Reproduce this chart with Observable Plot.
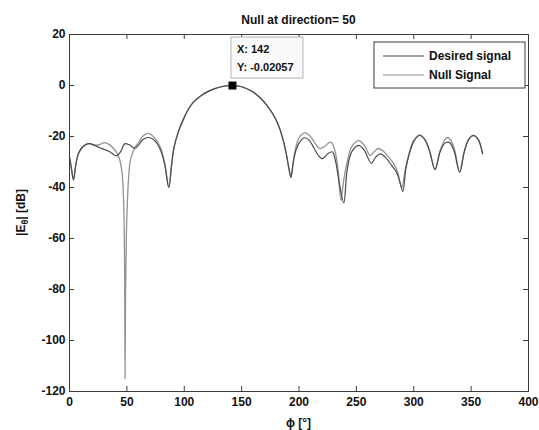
<!DOCTYPE html>
<html>
<head>
<meta charset="utf-8">
<script src="https://cdn.jsdelivr.net/npm/d3@7"></script>
<script src="https://cdn.jsdelivr.net/npm/@observablehq/plot@0.6"></script>
<style>
  html, body { margin: 0; padding: 0; background: #fff; }
  svg { display: block; }
</style>
</head>
<body>
<div id="chart"></div>
<script>
// ---- Data ----
const titleText = "Null at direction= 50";
const seriesNames = ["Desired signal", "Null Signal"];
const xTicks = [0, 50, 100, 150, 200, 250, 300, 350, 400];
const yTicks = [-120, -100, -80, -60, -40, -20, 0, 20];

const desiredPhi = [0, 1.5, 3.5, 5.5, 8, 12, 17, 22, 26, 31, 35, 41, 44.5, 48, 52, 57, 60, 64, 69, 74, 79, 83, 86.5,
  89, 91, 95, 100, 104, 108, 114, 120, 126, 132, 137, 142, 147, 152, 157, 162, 167, 172, 177, 182, 186, 189, 191, 193,
  195, 198, 202, 205, 209, 213, 217, 220.5, 225, 229, 232, 235, 239, 242, 246, 252, 257, 263, 267, 271, 276, 281, 285,
  288, 290.5, 293, 296, 300, 305, 310, 314, 318.5, 323, 327, 331, 335, 340, 344, 348, 352, 356, 360];
const desiredDb = [-28, -32, -37, -31, -26.5, -23.8, -22.8, -23.5, -24.3, -25.2, -26, -27.6, -26, -22.9, -23.2, -24.6, -23.5, -21.2, -20.4, -21.5, -25, -31, -40,
  -31, -24.5, -18, -12.5, -9, -6.5, -4.2, -2.5, -1.3, -0.5, -0.1, 0, -0.2, -0.8, -1.8, -3.2, -5.2, -7.8, -11, -15.5, -21, -27, -32, -36,
  -30, -24.5, -21.3, -20.5, -21.5, -24.5, -27.5, -28.7, -26.8, -26, -30, -38, -46, -33, -26, -23.5, -25.5, -30.5, -28, -26.8, -28.5, -31.5, -34,
  -38, -41.5, -33, -27, -22, -19.6, -21.5, -26, -33, -26, -22.7, -22.3, -25.5, -34, -26, -21, -19.6, -21, -26.7];

const nullPhi = [0, 1.5, 3.5, 5.5, 8, 12, 17, 22, 26, 30.5, 35, 39, 42, 44, 46, 47.3, 48, 48.4, 48.9, 49.6, 50.5, 51.7, 53, 55, 57, 60, 64, 69, 74, 79, 83, 86.5,
  89, 91, 95, 100, 104, 108, 114, 120, 126, 132, 137, 142, 147, 152, 157, 162, 167, 172, 177, 182, 186, 189, 191, 193,
  196, 200, 205, 209, 213, 218, 222, 226, 228, 231, 234, 236.5, 239, 242, 246, 252, 257, 262, 265.5, 269, 274, 279, 283, 286, 289.5,
  293, 296, 300, 305, 310, 314, 318.5, 323, 327, 329.5, 333, 336, 340, 344, 348, 352, 356, 360];
const nullDb = [-28, -32, -37, -31, -26.5, -23.8, -22.8, -23.4, -23.2, -22.4, -23.3, -25, -27, -29.5, -35, -48, -70, -115, -80, -58, -45, -35, -29.5, -26.5, -24.3, -22.5, -19.8, -18.8, -20.5, -24, -30.5, -40,
  -31, -24.5, -18, -12.5, -9, -6.5, -4.2, -2.5, -1.3, -0.5, -0.1, 0, -0.2, -0.8, -1.8, -3.2, -5.2, -7.8, -11, -15.5, -21, -27, -32, -36,
  -27, -20.5, -18.6, -19.5, -22, -24.7, -24, -22.5, -22.2, -25, -33, -45, -37, -30, -24, -21.6, -23.5, -27.5, -26, -24.7, -26, -28.5, -31, -34, -40,
  -32, -26.5, -21.5, -19.4, -21.3, -26, -33, -25.5, -21.3, -20.4, -22, -26, -34, -26, -21, -19.6, -21, -26.7];

const tipPhi = 142;
const tipDb = -0.02057;
const tipLines = ["X: 142", "Y: -0.02057"];

// ---- Build tables ----
const desired = desiredPhi.map((p, i) => ({phi: p, db: desiredDb[i]}));
const nulled = nullPhi.map((p, i) => ({phi: p, db: nullDb[i]}));

const W = 539, H = 430;
const mL = 69, mR = 11, mT = 34, mB = 39;
const plotH = H - mT - mB, plotW = W - mL - mR;
const axisColor = "#3c3c3c";
const desiredColor = "#4a4a4a";
const nullColor = "#929292";
const font = "'Liberation Sans', Arial, Helvetica, sans-serif";

const chart = Plot.plot({
  width: W, height: H,
  marginLeft: mL, marginRight: mR, marginTop: mT, marginBottom: mB,
  x: {domain: [0, 400], ticks: xTicks},
  y: {domain: [-120, 20], ticks: yTicks},
  style: {fontFamily: font, fontSize: "12px", fontWeight: "bold", color: "#111", background: "#fff"},
  marks: [
    Plot.line(nulled, {x: "phi", y: "db", curve: "catmull-rom", stroke: nullColor, strokeWidth: 1.3}),
    Plot.line(desired, {x: "phi", y: "db", curve: "catmull-rom", stroke: desiredColor, strokeWidth: 1.2}),
    Plot.frame({stroke: axisColor, strokeWidth: 1}),
    Plot.tickX(xTicks, {x: d => d, insetTop: plotH - 5, stroke: axisColor}),
    Plot.tickX(xTicks, {x: d => d, insetBottom: plotH - 5, stroke: axisColor}),
    Plot.tickY(yTicks, {y: d => d, insetRight: plotW - 5, stroke: axisColor}),
    Plot.tickY(yTicks, {y: d => d, insetLeft: plotW - 5, stroke: axisColor}),
    Plot.axisX(xTicks, {tickSize: 0, tickPadding: 6, label: null, tickFormat: d => String(d)}),
    Plot.axisY(yTicks, {tickSize: 0, tickPadding: 4, label: null, tickFormat: d => String(d)}),
    Plot.dot([{phi: tipPhi, db: tipDb}], {x: "phi", y: "db", symbol: "square", r: 4.5, fill: "#000", stroke: "none"})
  ]
});

const svg = d3.select(chart);
const sx = chart.scale("x"), sy = chart.scale("y");

function addText(parent, x, y, txt, anchor, size) {
  return parent.append("text")
    .attr("x", x).attr("y", y)
    .attr("text-anchor", anchor)
    .attr("font-family", font).attr("font-size", size || 12).attr("font-weight", "bold").attr("fill", "#111")
    .text(txt);
}

// Title
addText(svg, (mL + W - mR) / 2, 24, titleText, "middle");
// X label
addText(svg, (mL + W - mR) / 2, 427, "ϕ [°]", "middle");

// Y label with subscript
const yl = svg.append("text")
  .attr("transform", `translate(25,${(mT + H - mB) / 2}) rotate(-90)`)
  .attr("text-anchor", "middle")
  .attr("font-family", font).attr("font-size", 12).attr("font-weight", "bold").attr("fill", "#111");
yl.append("tspan").text("|E");
yl.append("tspan").attr("font-size", 9).attr("dy", 3).text("θ");
yl.append("tspan").attr("dy", -3).text("| [dB]");

// Data tip box
const tx = sx.apply(tipPhi), ty = sy.apply(tipDb);
svg.append("rect")
  .attr("x", tx - 1).attr("y", ty - 48).attr("width", 72).attr("height", 41)
  .attr("fill", "#fafafa").attr("stroke", "#b4b4b4").attr("stroke-width", 1);
tipLines.forEach((t, i) => addText(svg, tx + 5, ty - 32 + i * 18, t, "start", 11));

// Legend
const lg = svg.append("g");
lg.append("rect").attr("x", 374).attr("y", 42).attr("width", 151).attr("height", 46)
  .attr("fill", "#fff").attr("stroke", axisColor).attr("stroke-width", 1);
[desiredColor, nullColor].forEach((c, i) => {
  const yy = 56 + i * 19;
  lg.append("line").attr("x1", 383).attr("x2", 424).attr("y1", yy).attr("y2", yy)
    .attr("stroke", c).attr("stroke-width", 1.2);
  addText(lg, 429, yy + 4, seriesNames[i], "start", 12);
});

document.getElementById("chart").appendChild(chart);
</script>
</body>
</html>
